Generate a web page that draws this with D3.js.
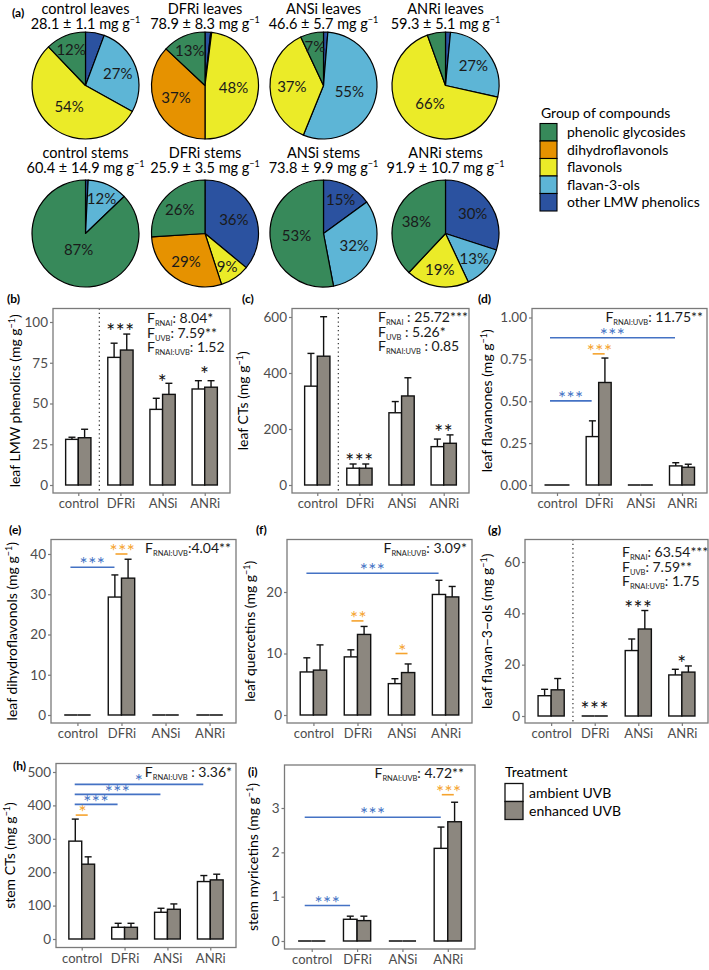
<!DOCTYPE html>
<html><head><meta charset="utf-8">
<script src="https://cdn.jsdelivr.net/npm/d3@7"></script>
<style>body{margin:0;background:#fff} svg{display:block}</style>
</head><body><svg id="chart" width="709" height="970"></svg>
<script>
// ---------------- DATA ----------------
const categories = ["control", "DFRi", "ANSi", "ANRi"];
const treatments = ["ambient UVB", "enhanced UVB"];
const groups = ["phenolic glycosides", "dihydroflavonols", "flavonols", "flavan-3-ols", "other LMW phenolics"];
const groupColors = ["#37895A", "#E69200", "#EBEB28", "#5DB5D6", "#2B52A0"];

const pieTitles = ["control leaves", "DFRi leaves", "ANSi leaves", "ANRi leaves",
                   "control stems", "DFRi stems", "ANSi stems", "ANRi stems"];
const pieTotals = ["28.1 ± 1.1", "78.9 ± 8.3", "46.6 ± 5.7", "59.3 ± 5.1",
                   "60.4 ± 14.9", "25.9 ± 3.5", "73.8 ± 9.9", "91.9 ± 10.7"];
// shares (%) in group order: phenolic glycosides, dihydroflavonols, flavonols, flavan-3-ols, other LMW phenolics
const pieControlLeaves = [12, 0, 54, 27, 5.6];
const pieDFRiLeaves    = [13, 37, 48, 0.3, 1.7];
const pieANSiLeaves    = [7, 0, 37, 55, 1.3];
const pieANRiLeaves    = [5.5, 0, 66, 27, 1.5];
const pieControlStems  = [87, 0, 0, 12, 0.8];
const pieDFRiStems     = [26, 29, 9, 0, 36];
const pieANSiStems     = [53, 0, 0, 32, 15];
const pieANRiStems     = [38, 0, 19, 13, 30];
const pieShares = [pieControlLeaves, pieDFRiLeaves, pieANSiLeaves, pieANRiLeaves,
                   pieControlStems, pieDFRiStems, pieANSiStems, pieANRiStems];

// bar panels: means and SE (ambient, enhanced) per category
const lmwAmb = [28.0, 78.3, 46.4, 58.9], lmwAmbSE = [1.3, 8.7, 6.8, 5.1];
const lmwEnh = [29.0, 82.8, 55.6, 60.0], lmwEnhSE = [5.2, 9.8, 6.8, 4.0];
const ctAmb = [353, 60, 258, 137], ctAmbSE = [117, 15, 40, 27];
const ctEnh = [460, 60, 318, 149], ctEnhSE = [141, 15, 65, 30];
const fnAmb = [0, 0.289, 0, 0.114], fnAmbSE = [0, 0.094, 0, 0.019];
const fnEnh = [0, 0.612, 0, 0.106], fnEnhSE = [0, 0.146, 0, 0.018];
const dfAmb = [0, 29.3, 0, 0], dfAmbSE = [0, 5.5, 0, 0];
const dfEnh = [0, 34.0, 0, 0], dfEnhSE = [0, 4.7, 0, 0];
const quAmb = [7.0, 9.45, 5.1, 19.6], quAmbSE = [2.3, 1.15, 0.8, 2.3];
const quEnh = [7.3, 13.1, 6.9, 19.2], quEnhSE = [4.1, 1.3, 1.4, 1.7];
const f3Amb = [7.9, 0, 25.5, 16.0], f3AmbSE = [2.5, 0, 4.5, 2.2];
const f3Enh = [10.2, 0, 33.9, 17.1], f3EnhSE = [4.4, 0, 7.2, 2.4];
const sctAmb = [293, 35, 80, 172], sctAmbSE = [66, 12, 12, 18];
const sctEnh = [224, 35, 89, 177], sctEnhSE = [22, 12, 16, 17];
const myAmb = [0, 0.49, 0, 2.09], myAmbSE = [0, 0.07, 0, 0.48];
const myEnh = [0, 0.46, 0, 2.69], myEnhSE = [0, 0.10, 0, 0.44];

// tick labels
const ticksLMW = [0, 25, 50, 75, 100];
const ticksCT = [0, 200, 400, 600];
const ticksFN = [0, 0.25, 0.5, 0.75, 1.0];
const ticksDF = [0, 10, 20, 30, 40];
const ticksQU = [0, 10, 20];
const ticksF3 = [0, 20, 40, 60];
const ticksSCT = [0, 100, 200, 300, 400, 500];
const ticksMY = [0, 1, 2, 3];

// statistics text
const statsLMW = [["RNAi", ": 8.04*"], ["UVB", ": 7.59**"], ["RNAi:UVB", ": 1.52"]];
const statsCT = [["RNAi", " : 25.72***"], ["UVB", " : 5.26*"], ["RNAi:UVB", " : 0.85"]];
const statsFN = [["RNAi:UVB", ": 11.75**"]];
const statsDF = [["RNAi:UVB", ":4.04**"]];
const statsQU = [["RNAi:UVB", ": 3.09*"]];
const statsF3 = [["RNAi", ": 63.54***"], ["UVB", ": 7.59**"], ["RNAi:UVB", ": 1.75"]];
const statsSCT = [["RNAi:UVB", " : 3.36*"]];
const statsMY = [["RNAi:UVB", ": 4.72**"]];

// significance annotations: [category, value, label]
const starsLMW = [["DFRi", 97, "***"], ["ANSi", 65.6, "*"], ["ANRi", 70.5, "*"]];
const starsCT = [["DFRi", 100, "***"], ["ANRi", 204, "**"]];
const starsF3 = [["DFRi", 4.0, "***"], ["ANSi", 43.6, "***"], ["ANRi", 22.0, "*"]];
// blue: [from, to, value, label]; orange: [category, value, label]
const blueFN = [["control", "DFRi", 0.502, "***"], ["control", "ANRi", 0.879, "***"]];
const orangeFN = [["DFRi", 0.783, "***"]];
const blueDF = [["control", "DFRi", 36.7, "***"]];
const orangeDF = [["DFRi", 40.0, "***"]];
const blueQU = [["control", "ANRi", 23.06, "***"]];
const orangeQU = [["DFRi", 15.3, "**"], ["ANSi", 10.0, "*"]];
const blueSCT = [["control", "ANRi", 463, "*"], ["control", "ANSi", 433, "***"], ["control", "DFRi", 403, "***"]];
const orangeSCT = [["control", 371, "*"]];
const blueMY = [["control", "DFRi", 0.80, "***"], ["control", "ANRi", 2.79, "***"]];
const orangeMY = [["ANRi", 3.30, "***"]];

// ---------------- STYLE / LAYOUT ----------------
const FONT = "Lato, 'Open Sans', sans-serif";
const BLUE = "#4472C4", ORANGE = "#F5A32E";
const GRAYFILL = "#8C877F";
const svg = d3.select("#chart");

// ---------------- PIES ----------------
const pieCx = [85.5, 205, 323.5, 445.5];
const pieCy = [85.5, 233.5];
const pieR = 53.5;
const pieTitleY = [[14, 29], [157.5, 172.5]];
const clockwise = [4, 3, 2, 1, 0];
const pieGen = d3.pie().sort(null).value(d => d.v);
const arcGen = d3.arc().innerRadius(0).outerRadius(pieR);

svg.append("text").attr("x", 12).attr("y", 17).attr("font-family", FONT)
  .attr("font-size", 12).attr("font-weight", "bold").text("(a)");

pieShares.forEach((shares, i) => {
  const row = Math.floor(i / 4), col = i % 4;
  const cx = pieCx[col], cy = pieCy[row];
  svg.append("text").attr("x", cx).attr("y", pieTitleY[row][0])
    .attr("text-anchor", "middle").attr("font-family", FONT).attr("font-size", 14.5).text(pieTitles[i]);
  const t2 = svg.append("text").attr("x", cx).attr("y", pieTitleY[row][1])
    .attr("text-anchor", "middle").attr("font-family", FONT).attr("font-size", 14.5);
  t2.append("tspan").text(pieTotals[i] + " mg g");
  t2.append("tspan").attr("dy", -6).attr("font-size", 9).text("\u22121");
  const items = clockwise.map(gi => ({ g: gi, v: shares[gi] }));
  const arcs = pieGen(items);
  const g = svg.append("g").attr("transform", `translate(${cx},${cy})`);
  g.selectAll("path").data(arcs.filter(a => a.data.v > 0)).join("path")
    .attr("d", arcGen).attr("fill", d => groupColors[d.data.g])
    .attr("stroke", "#000").attr("stroke-width", 1.2).attr("stroke-linejoin", "round");
  arcs.filter(a => a.data.v >= 7).forEach(a => {
    const mid = (a.startAngle + a.endAngle) / 2;
    const rl = 42 - 0.28 * a.data.v;
    g.append("text").attr("x", Math.sin(mid) * rl).attr("y", -Math.cos(mid) * rl)
      .attr("dy", "0.36em").attr("text-anchor", "middle").attr("font-family", FONT)
      .attr("font-size", 15).attr("fill", "#1a1a1a").text(Math.round(a.data.v) + "%");
  });
});

// pie legend
const lg = svg.append("g");
lg.append("text").attr("x", 541).attr("y", 118).attr("font-family", FONT).attr("font-size", 14).text("Group of compounds");
groups.forEach((gname, i) => {
  const y0 = 123.5 + i * 17.5;
  lg.append("rect").attr("x", 540).attr("y", y0).attr("width", 17).attr("height", 17.5)
    .attr("fill", groupColors[i]).attr("stroke", "#000").attr("stroke-width", 1.1);
  lg.append("text").attr("x", 567).attr("y", y0 + 13.5).attr("font-family", FONT).attr("font-size", 14).text(gname);
});

// ---------------- BAR PANELS ----------------
const panels = [
  { label: "(b)", labelXY: [7, 303], title: "leaf LMW phenolics", titleX: 20,
    amb: lmwAmb, ambSE: lmwAmbSE, enh: lmwEnh, enhSE: lmwEnhSE,
    box: [53, 230, 308.5, 493], zero: 485, refVal: 100, refPx: 322, ticks: ticksLMW, fmt: d3.format("d"),
    divider: true, stats: statsLMW, statsX: 147, statsY: 323, statsAnchor: "start",
    stars: starsLMW, blue: [], orange: [] },
  { label: "(c)", labelXY: [242, 303], title: "leaf CTs", titleX: 248,
    amb: ctAmb, ambSE: ctAmbSE, enh: ctEnh, enhSE: ctEnhSE,
    box: [292, 469, 308.5, 493], zero: 485, refVal: 600, refPx: 317, ticks: ticksCT, fmt: d3.format("d"),
    divider: true, stats: statsCT, statsX: 378, statsY: 322, statsAnchor: "start",
    stars: starsCT, blue: [], orange: [] },
  { label: "(d)", labelXY: [478, 303], title: "leaf flavanones", titleX: 492,
    amb: fnAmb, ambSE: fnAmbSE, enh: fnEnh, enhSE: fnEnhSE,
    box: [532, 707, 308.5, 493], zero: 485, refVal: 1.0, refPx: 317.5, ticks: ticksFN, fmt: d3.format(".2f"),
    divider: false, stats: statsFN, statsX: 703, statsY: 322, statsAnchor: "end",
    stars: [], blue: blueFN, orange: orangeFN },
  { label: "(e)", labelXY: [9, 534], title: "leaf dihydroflavonols", titleX: 17,
    amb: dfAmb, ambSE: dfAmbSE, enh: dfEnh, enhSE: dfEnhSE,
    box: [51, 236, 539.5, 723], zero: 715, refVal: 40, refPx: 554, ticks: ticksDF, fmt: d3.format("d"),
    divider: false, stats: statsDF, statsX: 231, statsY: 553, statsAnchor: "end",
    stars: [], blue: blueDF, orange: orangeDF },
  { label: "(f)", labelXY: [256, 534], title: "leaf quercetins", titleX: 255,
    amb: quAmb, ambSE: quAmbSE, enh: quEnh, enhSE: quEnhSE,
    box: [287, 472, 539.5, 723], zero: 715, refVal: 20, refPx: 592, ticks: ticksQU, fmt: d3.format("d"),
    divider: false, stats: statsQU, statsX: 467, statsY: 553, statsAnchor: "end",
    stars: [], blue: blueQU, orange: orangeQU },
  { label: "(g)", labelXY: [488, 534], title: "leaf flavan\u22123\u2212ols", titleX: 492,
    amb: f3Amb, ambSE: f3AmbSE, enh: f3Enh, enhSE: f3EnhSE,
    box: [525, 708, 539.5, 723], zero: 716, refVal: 60, refPx: 562, ticks: ticksF3, fmt: d3.format("d"),
    divider: true, stats: statsF3, statsX: 622, statsY: 557, statsAnchor: "start",
    stars: starsF3, blue: [], orange: [] },
  { label: "(h)", labelXY: [13, 770], title: "stem CTs", titleX: 15,
    amb: sctAmb, ambSE: sctAmbSE, enh: sctEnh, enhSE: sctEnhSE,
    box: [56, 236, 763.5, 947.5], zero: 939, refVal: 500, refPx: 772, ticks: ticksSCT, fmt: d3.format("d"),
    divider: false, stats: statsSCT, statsX: 232, statsY: 777, statsAnchor: "end",
    stars: [], blue: blueSCT, orange: orangeSCT },
  { label: "(i)", labelXY: [248, 776], title: "stem myricetins", titleX: 258,
    amb: myAmb, ambSE: myAmbSE, enh: myEnh, enhSE: myEnhSE,
    box: [284.5, 475, 765, 949], zero: 941, refVal: 3, refPx: 808, ticks: ticksMY, fmt: d3.format("d"),
    divider: false, stats: statsMY, statsX: 464, statsY: 778, statsAnchor: "end",
    stars: [], blue: blueMY, orange: orangeMY }
];

function starText(g, x, cy, str, color, size) {
  // place asterisk glyph centre near cy
  g.append("text").attr("x", x).attr("y", cy + size * 0.56).attr("text-anchor", "middle")
    .attr("font-family", FONT).attr("font-size", size).attr("fill", color)
    .attr("letter-spacing", 0.5).text(str);
}

function drawPanel(p) {
  const [L, R, T, B] = p.box;
  const g = svg.append("g");
  const x = d3.scalePoint().domain(categories).range([L, R]).padding(0.6);
  const step = x.step();
  const bw = step * 0.3;
  const y = d3.scaleLinear().domain([0, p.refVal]).range([p.zero, p.refPx]);

  // panel label
  svg.append("text").attr("x", p.labelXY[0]).attr("y", p.labelXY[1]).attr("font-family", FONT)
    .attr("font-size", 12).attr("font-weight", "bold").text(p.label);

  // axes
  const ya = d3.axisLeft(y).tickValues(p.ticks).tickSize(3).tickPadding(2).tickFormat(p.fmt);
  g.append("g").attr("transform", `translate(${L},0)`).call(ya).call(s => {
    s.select(".domain").remove();
    s.selectAll("line").attr("stroke", "#7a7a7a").attr("stroke-width", 1.2);
    s.selectAll("text").attr("font-size", 13.5).attr("fill", "#4D4D4D").attr("font-family", FONT);
  });
  const xa = d3.axisBottom(x).tickSize(3).tickPadding(3);
  g.append("g").attr("transform", `translate(0,${B})`).call(xa).call(s => {
    s.select(".domain").remove();
    s.selectAll("line").attr("stroke", "#7a7a7a").attr("stroke-width", 1.2);
    s.selectAll("text").attr("font-size", 13).attr("fill", "#4D4D4D").attr("font-family", FONT);
  });

  // divider
  if (p.divider) {
    const xm = (x("control") + x("DFRi")) / 2;
    g.append("line").attr("x1", xm).attr("x2", xm).attr("y1", T).attr("y2", B)
      .attr("stroke", "#444").attr("stroke-width", 1.3).attr("stroke-dasharray", "1.3,3");
  }

  // bars
  const series = [[p.amb, p.ambSE, "#fff"], [p.enh, p.enhSE, GRAYFILL]];
  categories.forEach((c, i) => {
    series.forEach(([vals, ses, fill], t) => {
      const v = vals[i], se = ses[i];
      const x0 = x(c) - bw + t * bw;
      const xc = x0 + bw / 2;
      if (v > 0) {
        g.append("line").attr("x1", xc).attr("x2", xc).attr("y1", y(v)).attr("y2", y(v + se))
          .attr("stroke", "#111").attr("stroke-width", 1.4);
        g.append("line").attr("x1", xc - 3.5).attr("x2", xc + 3.5).attr("y1", y(v + se)).attr("y2", y(v + se))
          .attr("stroke", "#111").attr("stroke-width", 1.4);
        g.append("rect").attr("x", x0).attr("y", y(v)).attr("width", bw).attr("height", y(0) - y(v))
          .attr("fill", fill).attr("stroke", "#111").attr("stroke-width", 1.4);
      } else {
        g.append("line").attr("x1", x0).attr("x2", x0 + bw).attr("y1", y(0)).attr("y2", y(0))
          .attr("stroke", "#333").attr("stroke-width", 1.8);
      }
    });
  });

  // black stars
  p.stars.forEach(([c, v, s]) => starText(g, x(c), y(v), s, "#111", 21));
  // blue comparisons
  p.blue.forEach(([a, b, v, s]) => {
    const x1 = x(a) - 7, x2 = x(b) - 7;
    g.append("line").attr("x1", x1).attr("x2", x2).attr("y1", y(v)).attr("y2", y(v))
      .attr("stroke", BLUE).attr("stroke-width", 1.6);
    starText(g, (x1 + x2) / 2, y(v) - 6.5, s, BLUE, 19);
  });
  p.orange.forEach(([c, v, s]) => {
    g.append("line").attr("x1", x(c) - 6).attr("x2", x(c) + 6).attr("y1", y(v)).attr("y2", y(v))
      .attr("stroke", ORANGE).attr("stroke-width", 1.6);
    starText(g, x(c) + 1, y(v) - 6.5, s, ORANGE, 19);
  });

  // box
  g.append("rect").attr("x", L).attr("y", T).attr("width", R - L).attr("height", B - T)
    .attr("fill", "none").attr("stroke", "#7a7a7a").attr("stroke-width", 1.3);

  // stats text
  p.stats.forEach(([sub, rest], k) => {
    const tx = g.append("text").attr("x", p.statsX).attr("y", p.statsY + k * 14.5)
      .attr("text-anchor", p.statsAnchor).attr("font-family", FONT).attr("font-size", 14).attr("fill", "#1a1a1a");
    tx.append("tspan").text("F");
    tx.append("tspan").attr("font-size", 7.5).attr("dy", 3).text(sub.toUpperCase());
    tx.append("tspan").attr("dy", -3).text(rest);
  });

  // y title
  const yt = svg.append("text").attr("transform", `translate(${p.titleX},${(T + B) / 2}) rotate(-90)`)
    .attr("text-anchor", "middle").attr("font-family", FONT).attr("font-size", 14);
  yt.append("tspan").text(p.title + " (mg g");
  yt.append("tspan").attr("dy", -5).attr("font-size", 9).text("\u22121");
  yt.append("tspan").attr("dy", 5).text(")");
}
panels.forEach(drawPanel);

// treatment legend
const tl = svg.append("g");
tl.append("text").attr("x", 505).attr("y", 777).attr("font-family", FONT).attr("font-size", 14).text("Treatment");
treatments.forEach((t, i) => {
  const y0 = 783.5 + i * 18;
  tl.append("rect").attr("x", 505).attr("y", y0).attr("width", 18).attr("height", 18)
    .attr("fill", i === 0 ? "#fff" : GRAYFILL).attr("stroke", "#111").attr("stroke-width", 1.3);
  tl.append("text").attr("x", 529).attr("y", y0 + 14).attr("font-family", FONT).attr("font-size", 14).text(t);
});
</script></body></html>
